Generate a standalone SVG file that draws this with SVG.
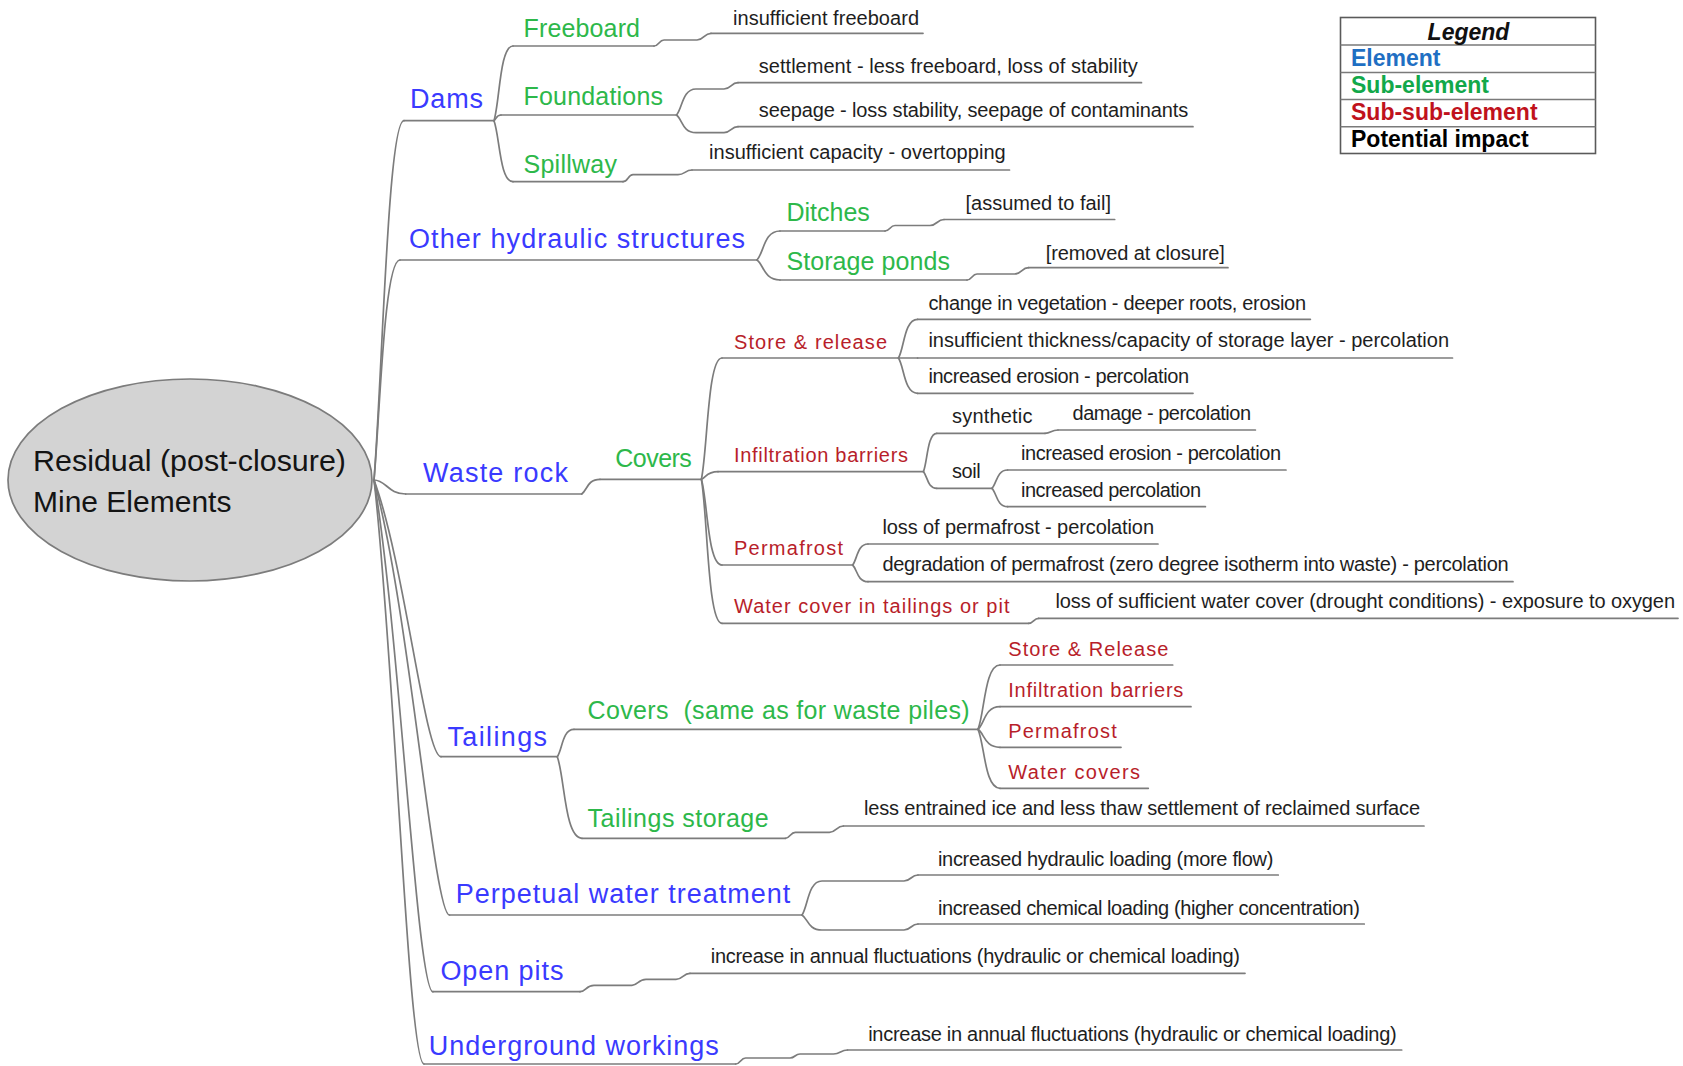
<svg xmlns="http://www.w3.org/2000/svg" width="1683" height="1066" viewBox="0 0 1683 1066">
<style>
text{font-family:"Liberation Sans",Arial,sans-serif;}
.ln{fill:none;stroke:#7c7c7c;stroke-width:1.7;stroke-linecap:round;}
.el{font-size:27px;fill:#3a3aff;}
.se{font-size:25px;fill:#2db84a;}
.ss{font-size:20px;fill:#b81e2a;}
.im{font-size:20px;fill:#1e1e1e;}
.lg{font-size:23px;font-weight:bold;}
</style>
<rect width="1683" height="1066" fill="#ffffff"/>

<g id="connectors" class="ln">
<path d="M374 480 c8.4 -107.8 14 -359.3 30 -359.3"/>
<path d="M374 480 c6 -66 10 -220 26 -220"/>
<path d="M374 480 c12 0 14 14 31.7 14"/>
<path d="M374 480 c30.6 83 51 276.7 67 276.7"/>
<path d="M374 480 c35.7 130.5 59.5 435 75.5 435"/>
<path d="M374 480 c25.8 153.5 43 511.7 59 511.7"/>
<path d="M374 480 c20.4 175.2 34 584 50 584"/>
<path d="M494 120.7 c5.7 -18.5 5.7 -74.7 19 -74.7"/>
<path d="M494 120.7 c2.1 -1.4 2.1 -5.7 7 -5.7"/>
<path d="M494 120.7 c5.7 15.25 5.7 61 19 61"/>
<path d="M757 260 c6.9 -7.25 6.9 -29 23 -29"/>
<path d="M757 260 c6.9 5 6.9 20 23 20"/>
<path d="M581.7 494 c5.5 -3.7 5.5 -14.7 18.3 -14.7"/>
<path d="M557.3 756.7 c5 -6.85 5 -27.4 16.7 -27.4"/>
<path d="M557.3 756.7 c7.4 20.4 7.4 81.6 24.7 81.6"/>
<path d="M654 46 c5 0 5 -6 10 -6 L697 40 c7 0 7 -6.7 14 -6.7"/>
<path d="M676.5 115 c5.85 -6.5 5.85 -26 19.5 -26 L724 89 c7 0 7 -6.3 14 -6.3"/>
<path d="M676.5 115 c5.85 4.4 5.85 17.7 19.5 17.7 L724 132.7 c7 0 7 -6 14 -6"/>
<path d="M623 181.7 c5 0 5 -7 10 -7 L678 174.7 c7 0 7 -4.7 14 -4.7"/>
<path d="M885 231 c5 0 5 -5.5 10 -5.5 L930 225.5 c7 0 7 -6 14 -6"/>
<path d="M967 280 c5 0 5 -6 10 -6 L1014.6 274 c7 0 7 -6.3 14 -6.3"/>
<path d="M701.4 479.3 c6.2 -30.2 6.2 -121.3 20.6 -121.3"/>
<path d="M701.4 479.3 c5 -1.9 5 -7.6 16.6 -7.6"/>
<path d="M701.4 479.3 c6.2 21.4 6.2 85.7 20.6 85.7"/>
<path d="M701.4 479.3 c6.2 36 6.2 144 20.6 144"/>
<path d="M898.5 358 c5.7 -9.7 5.7 -38.7 19.1 -38.7"/>
<path d="M898.5 358 L917.6 358"/>
<path d="M898.5 358 c5.7 8.8 5.7 35.3 19.1 35.3"/>
<path d="M923.4 471.7 c4 -9.6 4 -38.4 13.4 -38.4"/>
<path d="M923.4 471.7 c4 4.15 4 16.6 13.4 16.6"/>
<path d="M1045 433.3 c6 0 6 -3.3 13 -3.3"/>
<path d="M992 488.3 c4.7 -4.6 4.7 -18.3 15.6 -18.3"/>
<path d="M992 488.3 c4.7 4.6 4.7 18.4 15.6 18.4"/>
<path d="M852.6 565 c4.6 -5.25 4.6 -21 15.4 -21"/>
<path d="M852.6 565 c4.6 4.2 4.6 16.7 15.4 16.7"/>
<path d="M1028.6 623.3 c5 0 5 -5 10 -5"/>
<path d="M978 729.3 c6.6 -16 6.6 -64.3 22 -64.3"/>
<path d="M978 729.3 c6.6 -5.65 6.6 -22.6 22 -22.6"/>
<path d="M978 729.3 c6.6 4.5 6.6 18 22 18"/>
<path d="M978 729.3 c6.6 14.75 6.6 59 22 59"/>
<path d="M785.3 838.3 c5 0 5 -6 10 -6 L829.4 832.3 c7 0 7 -6.3 14 -6.3"/>
<path d="M802 915 c6 -8.5 6 -34 20 -34 L904 881 c7 0 7 -6 14 -6"/>
<path d="M802 915 c6 3.75 6 15 20 15 L904 930 c7 0 7 -6 14 -6"/>
<path d="M580 991.7 c6 0 6 -6.4 14 -6.4 L632 985.3 c6 0 6 -6 14 -6 L676 979.3 c7 0 7 -6 14 -6"/>
<path d="M735.6 1064 c5 0 5 -6 10 -6 L790 1058 c5 0 5 -4 10 -4 L833.5 1054 c7 0 7 -4 14 -4"/>
</g>

<g id="root">
<ellipse cx="190" cy="480" rx="182" ry="101" fill="#d3d3d3" stroke="#7c7c7c" stroke-width="1.7"/>
<text x="33" y="471" font-size="30" fill="#141414" textLength="313" lengthAdjust="spacingAndGlyphs">Residual (post-closure)</text>
<text x="33" y="512" font-size="30" fill="#141414">Mine Elements</text>
</g>

<g id="el-dams"><path class="ln" d="M404 120.7 H494"/><text class="el" x="410" y="108" textLength="73" lengthAdjust="spacing">Dams</text></g>
<g id="el-ohs"><path class="ln" d="M400 260 H757"/><text class="el" x="409" y="248" textLength="336" lengthAdjust="spacing">Other hydraulic structures</text></g>
<g id="el-waste"><path class="ln" d="M405.7 494 H581.7"/><text class="el" x="423" y="482" textLength="145" lengthAdjust="spacing">Waste rock</text></g>
<g id="el-tailings"><path class="ln" d="M441 756.7 H557.3"/><text class="el" x="447.5" y="746" textLength="99.5" lengthAdjust="spacing">Tailings</text></g>
<g id="el-pwt"><path class="ln" d="M449.5 915 H802"/><text class="el" x="455.7" y="903.3" textLength="334.6" lengthAdjust="spacing">Perpetual water treatment</text></g>
<g id="el-pits"><path class="ln" d="M433 991.7 H580"/><text class="el" x="440.4" y="980" textLength="123" lengthAdjust="spacing">Open pits</text></g>
<g id="el-ug"><path class="ln" d="M424 1064 H735.6"/><text class="el" x="428.8" y="1055" textLength="290" lengthAdjust="spacing">Underground workings</text></g>

<g id="se-freeboard"><path class="ln" d="M513 46 H654"/><text class="se" x="523.5" y="36.7" textLength="116.5" lengthAdjust="spacing">Freeboard</text></g>
<g id="se-foundations"><path class="ln" d="M501 115 H676.5"/><text class="se" x="523.5" y="105" textLength="139.5" lengthAdjust="spacing">Foundations</text></g>
<g id="se-spillway"><path class="ln" d="M513 181.7 H623"/><text class="se" x="523.5" y="172.7" textLength="93.5" lengthAdjust="spacing">Spillway</text></g>
<g id="se-ditches"><path class="ln" d="M780 231 H885"/><text class="se" x="786.4" y="220.7" textLength="83.4" lengthAdjust="spacing">Ditches</text></g>
<g id="se-ponds"><path class="ln" d="M780 280 H967"/><text class="se" x="786.4" y="270" textLength="163.6" lengthAdjust="spacing">Storage ponds</text></g>
<g id="se-covers"><path class="ln" d="M600 479.3 H701.4"/><text class="se" x="615.3" y="466.7" textLength="76.5" lengthAdjust="spacing">Covers</text></g>
<g id="se-covers2"><path class="ln" d="M574 729.3 H978"/><text class="se" x="587.6" y="719.3" textLength="382" lengthAdjust="spacing" style="white-space:pre">Covers  (same as for waste piles)</text></g>
<g id="se-tstorage"><path class="ln" d="M582 838.3 H785.3"/><text class="se" x="587.6" y="826.7" textLength="181" lengthAdjust="spacing">Tailings storage</text></g>

<g id="ss-store"><path class="ln" d="M722 358 H898.5"/><text class="ss" x="734" y="349" textLength="153" lengthAdjust="spacing">Store &amp; release</text></g>
<g id="ss-infil"><path class="ln" d="M718 471.7 H923.4"/><text class="ss" x="734" y="461.7" textLength="174" lengthAdjust="spacing">Infiltration barriers</text></g>
<g id="ss-perma"><path class="ln" d="M722 565 H852.6"/><text class="ss" x="734" y="555" textLength="109" lengthAdjust="spacing">Permafrost</text></g>
<g id="ss-water"><path class="ln" d="M722 623.3 H1028.6"/><text class="ss" x="734" y="613.3" textLength="275.5" lengthAdjust="spacing">Water cover in tailings or pit</text></g>
<g id="ss-store2"><path class="ln" d="M1000 665 H1172.7"/><text class="ss" x="1008.3" y="656" textLength="160" lengthAdjust="spacing">Store &amp; Release</text></g>
<g id="ss-infil2"><path class="ln" d="M1000 706.7 H1191"/><text class="ss" x="1008.3" y="697.3" textLength="175" lengthAdjust="spacing">Infiltration barriers</text></g>
<g id="ss-perma2"><path class="ln" d="M1000 747.3 H1121"/><text class="ss" x="1008.3" y="738.3" textLength="108.4" lengthAdjust="spacing">Permafrost</text></g>
<g id="ss-water2"><path class="ln" d="M1000 788.3 H1148.3"/><text class="ss" x="1008.3" y="779.3" textLength="131.7" lengthAdjust="spacing">Water covers</text></g>

<g id="im-1"><path class="ln" d="M711 33.3 H923"/><text class="im" x="733" y="25" textLength="186" lengthAdjust="spacing">insufficient freeboard</text></g>
<g id="im-2"><path class="ln" d="M738 82.7 H1141.5"/><text class="im" x="758.8" y="73.3" textLength="379" lengthAdjust="spacing">settlement - less freeboard, loss of stability</text></g>
<g id="im-3"><path class="ln" d="M738 126.7 H1193"/><text class="im" x="758.8" y="116.7" textLength="429.4" lengthAdjust="spacing">seepage - loss stability, seepage of contaminants</text></g>
<g id="im-4"><path class="ln" d="M692 170 H1009.5"/><text class="im" x="709" y="159.3" textLength="296.7" lengthAdjust="spacing">insufficient capacity - overtopping</text></g>
<g id="im-5"><path class="ln" d="M944 219.5 H1114.7"/><text class="im" x="965.5" y="210" textLength="145.5" lengthAdjust="spacing">[assumed to fail]</text></g>
<g id="im-6"><path class="ln" d="M1028.6 267.7 H1228"/><text class="im" x="1045.8" y="259.5" textLength="179" lengthAdjust="spacing">[removed at closure]</text></g>
<g id="im-7"><path class="ln" d="M917.6 319.3 H1310.4"/><text class="im" x="928.4" y="310" textLength="377.6" lengthAdjust="spacing">change in vegetation - deeper roots, erosion</text></g>
<g id="im-8"><path class="ln" d="M917.6 358 H1452.5"/><text class="im" x="928.4" y="346.7" textLength="520.6" lengthAdjust="spacing">insufficient thickness/capacity of storage layer - percolation</text></g>
<g id="im-9"><path class="ln" d="M917.6 393.3 H1193"/><text class="im" x="928.4" y="383.3" textLength="260.6" lengthAdjust="spacing">increased erosion - percolation</text></g>
<g id="im-synthetic"><path class="ln" d="M936.8 433.3 H1045"/><text class="im" x="952" y="422.7" textLength="80.5" lengthAdjust="spacing">synthetic</text></g>
<g id="im-10"><path class="ln" d="M1058 430 H1255.4"/><text class="im" x="1072.6" y="420" textLength="178.4" lengthAdjust="spacing">damage - percolation</text></g>
<g id="im-soil"><path class="ln" d="M936.8 488.3 H992"/><text class="im" x="952" y="478.3" textLength="28.8" lengthAdjust="spacing">soil</text></g>
<g id="im-11"><path class="ln" d="M1007.6 470 H1286"/><text class="im" x="1021" y="460" textLength="260" lengthAdjust="spacing">increased erosion - percolation</text></g>
<g id="im-12"><path class="ln" d="M1007.6 506.7 H1205.4"/><text class="im" x="1021" y="496.7" textLength="180" lengthAdjust="spacing">increased percolation</text></g>
<g id="im-13"><path class="ln" d="M868 544 H1158"/><text class="im" x="882.4" y="534" textLength="271.6" lengthAdjust="spacing">loss of permafrost - percolation</text></g>
<g id="im-14"><path class="ln" d="M868 581.7 H1513"/><text class="im" x="882.4" y="570.7" textLength="626.2" lengthAdjust="spacing">degradation of permafrost (zero degree isotherm into waste) - percolation</text></g>
<g id="im-15"><path class="ln" d="M1038.6 618.3 H1678"/><text class="im" x="1055.4" y="608.3" textLength="619.6" lengthAdjust="spacing">loss of sufficient water cover (drought conditions) - exposure to oxygen</text></g>
<g id="im-16"><path class="ln" d="M843.4 826 H1424"/><text class="im" x="864" y="815" textLength="556" lengthAdjust="spacing">less entrained ice and less thaw settlement of reclaimed surface</text></g>
<g id="im-17"><path class="ln" d="M918 875 H1278.3"/><text class="im" x="938" y="866" textLength="335.3" lengthAdjust="spacing">increased hydraulic loading (more flow)</text></g>
<g id="im-18"><path class="ln" d="M918 924 H1364.3"/><text class="im" x="938" y="915" textLength="422" lengthAdjust="spacing">increased chemical loading (higher concentration)</text></g>
<g id="im-19"><path class="ln" d="M690 973.3 H1245"/><text class="im" x="710.7" y="963.3" textLength="529.3" lengthAdjust="spacing">increase in annual fluctuations (hydraulic or chemical loading)</text></g>
<g id="im-20"><path class="ln" d="M847.5 1050 H1401.7"/><text class="im" x="868.2" y="1040.7" textLength="528.5" lengthAdjust="spacing">increase in annual fluctuations (hydraulic or chemical loading)</text></g>

<g id="legend">
<rect x="1340.5" y="17.5" width="255" height="136" fill="#ffffff" stroke="#5a5a5a" stroke-width="1.6"/>
<path d="M1340.5 45 H1595.5 M1340.5 72.5 H1595.5 M1340.5 99.5 H1595.5 M1340.5 126.7 H1595.5" fill="none" stroke="#7a7a7a" stroke-width="1.4"/>
<text class="lg" x="1468.5" y="39.5" text-anchor="middle" font-style="italic" fill="#111">Legend</text>
<text class="lg" x="1351" y="65.7" fill="#1f6fc3">Element</text>
<text class="lg" x="1351" y="93" fill="#12a84a">Sub-element</text>
<text class="lg" x="1351" y="120" fill="#c0121c">Sub-sub-element</text>
<text class="lg" x="1351" y="146.7" fill="#000000">Potential impact</text>
</g>
</svg>
